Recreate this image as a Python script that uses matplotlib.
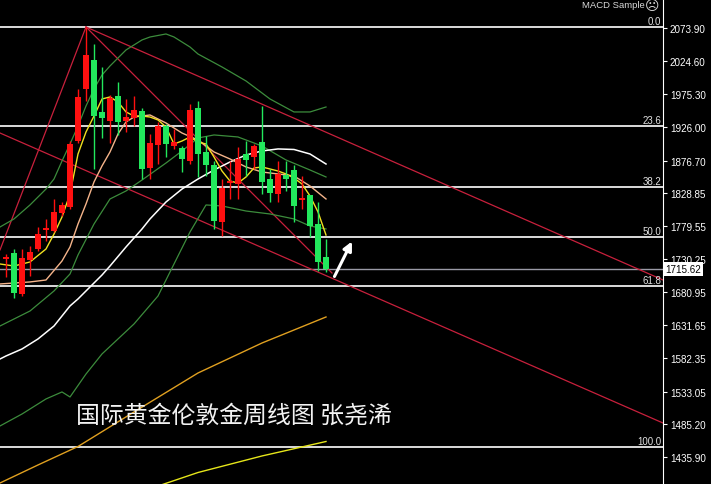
import matplotlib
matplotlib.use('Agg')
import matplotlib.pyplot as plt
import matplotlib.transforms as mtransforms

# weekly candles, oldest -> newest
opens = [1730.4, 1739.3, 1678.3, 1728.9, 1745.2, 1773.5, 1772.0, 1798.8, 1807.7, 1905.8,
         1983.2, 2026.3, 1949.0, 1935.6, 1972.8, 1935.6, 1940.0, 1950.5, 1865.7, 1899.9,
         1928.1, 1898.4, 1895.4, 1876.1, 1955.0, 1889.5, 1870.1, 1785.4, 1843.4, 1841.9,
         1886.5, 1882.0, 1904.4, 1849.3, 1827.0, 1855.3, 1862.7, 1818.1, 1825.5, 1782.4, 1733.3]
closes = [1733.3, 1679.8, 1731.8, 1740.8, 1767.5, 1776.4, 1800.3, 1810.7, 1901.4, 1971.3,
          2033.7, 1943.0, 1940.0, 1969.8, 1934.1, 1941.5, 1952.0, 1864.2, 1902.9, 1928.1,
          1901.4, 1904.4, 1879.1, 1952.0, 1886.5, 1870.1, 1786.9, 1835.9, 1846.3, 1879.1,
          1877.6, 1898.4, 1844.9, 1828.5, 1856.8, 1849.3, 1809.2, 1821.1, 1779.4, 1725.9, 1715.62]
highs = [1737.8, 1745.2, 1745.2, 1749.7, 1777.9, 1789.9, 1819.6, 1815.1, 1905.8, 1983.2,
         2075.4, 2050.1, 2015.9, 1974.3, 1993.6, 1968.3, 1972.8, 1955.0, 1916.3, 1934.1,
         1931.1, 1923.7, 1898.4, 1960.9, 1965.3, 1913.3, 1876.1, 1849.3, 1876.1, 1896.9,
         1905.8, 1901.4, 1957.9, 1864.2, 1876.1, 1876.1, 1870.1, 1853.8, 1825.5, 1815.1, 1760.1]
lows = [1703.6, 1672.4, 1675.3, 1705.1, 1742.3, 1757.1, 1770.5, 1794.3, 1804.7, 1903.0,
        1965.3, 1864.2, 1910.3, 1902.9, 1914.8, 1919.2, 1928.1, 1849.3, 1849.3, 1871.6,
        1882.0, 1894.0, 1859.7, 1871.6, 1852.3, 1853.8, 1775.0, 1764.6, 1819.6, 1819.6,
        1853.8, 1864.2, 1827.0, 1815.1, 1815.1, 1831.5, 1785.4, 1804.7, 1763.1, 1712.5, 1711.0]

# indicator lines (bar index, price)
ma5_x = [-0.75, 1, 3, 5, 6, 7, 8, 9, 10, 11, 12, 13, 14, 15, 16, 17, 18, 19, 20, 21, 22, 23, 24,
         25, 26, 27, 28, 29, 30, 31, 32, 33, 34, 35, 36, 37, 38, 39, 40]
ma5_y = [1722.9, 1719.9, 1725.9, 1745.2, 1767.5, 1792.8, 1827.0, 1886.5, 1919.2, 1943.0, 1968.3,
         1971.3, 1963.9, 1949.0, 1943.0, 1943.0, 1941.5, 1937.1, 1926.7, 1901.4, 1905.8, 1911.8,
         1904.4, 1901.4, 1882.0, 1861.2, 1846.3, 1843.4, 1852.3, 1865.7, 1867.2, 1864.2, 1861.2,
         1856.8, 1850.8, 1841.9, 1824.1, 1800.3, 1766.0]
ma10_x = [-0.75, 3, 5, 7, 8, 9, 10, 11, 12, 13, 14, 15, 16, 18, 20, 22, 24, 26, 28, 30, 32, 34,
          36, 38, 40]
ma10_y = [1693.2, 1696.2, 1699.1, 1727.4, 1748.2, 1782.4, 1812.2, 1844.9, 1868.7, 1889.5, 1916.3,
          1934.1, 1941.5, 1944.5, 1932.6, 1917.7, 1907.3, 1889.5, 1879.1, 1867.2, 1859.7, 1856.8,
          1853.8, 1838.9, 1819.6]
ma30_x = [-0.75, 0, 2, 4, 6, 8, 9, 10, 12, 13, 15, 17, 18, 20, 22, 24, 26, 28, 30, 32, 34, 36,
          38, 40]
ma30_y = [1581.6, 1586.1, 1596.5, 1611.4, 1630.7, 1660.5, 1670.9, 1682.8, 1706.5, 1719.9, 1748.2,
          1775.0, 1789.9, 1815.1, 1834.4, 1849.3, 1862.7, 1874.6, 1885.0, 1891.0, 1894.0, 1893.2,
          1886.5, 1871.6]
bb_up_x = [-0.75, 1, 3, 5, 6, 7, 8, 9, 10, 11, 12, 13, 15, 17, 18, 20, 21, 23, 24, 27, 30, 33,
           36, 38, 40]
bb_up_y = [1777.9, 1789.9, 1810.7, 1834.4, 1849.3, 1876.1, 1901.4, 1928.1, 1957.9, 1983.2, 2004.0,
           2017.4, 2041.2, 2056.1, 2060.5, 2065.0, 2060.5, 2045.6, 2035.2, 2015.9, 1995.1, 1968.3,
           1949.0, 1949.0, 1956.4]
bb_mid_x = [-0.75, 3, 6, 8, 9, 11, 13, 15, 17, 20, 22, 24, 26, 29, 32, 35, 38, 40]
bb_mid_y = [1630.7, 1653.0, 1682.8, 1708.0, 1736.3, 1782.4, 1819.6, 1831.5, 1847.8, 1873.1, 1891.0,
            1910.3, 1914.8, 1911.8, 1898.4, 1877.6, 1862.7, 1852.3]
bb_low_x = [-0.75, 2, 5, 7, 8, 10, 12, 16, 19, 21, 23, 25, 27, 30, 33, 36, 38, 40]
bb_low_y = [1482.0, 1499.8, 1522.2, 1532.6, 1525.1, 1559.3, 1589.1, 1633.7, 1675.3, 1722.9, 1770.5,
            1810.7, 1809.2, 1801.7, 1797.3, 1789.9, 1779.4, 1775.0]
ma60_x = [-0.75, 4, 9, 16, 24, 32, 40]
ma60_y = [1397.2, 1424.0, 1451.5, 1502.8, 1560.8, 1605.4, 1644.1]
ma120_x = [19, 24, 32, 40]
ma120_y = [1392.7, 1412.8, 1437.4, 1458.9]

# fibonacci retracement
fib_labels = ['0.0', '23.6', '38.2', '50.0', '61.8', '100.0']
fib_prices = [2074.9, 1927.4, 1837.4, 1763.1, 1689.5, 1450.3]

# hand drawn trend lines: (x0, y0, x1, y1)
trend_lines = [
    (10, 2075.4, 82.125, 1699.1),
    (-0.75, 1917.7, 82.125, 1486.4),
    (10, 2075.4, 40.75, 1709.5),
    (10, 2075.4, -0.75, 1743.8),
]

price_ticks = [2073.90, 2024.60, 1975.30, 1926.00, 1876.70, 1828.85, 1779.55, 1730.25,
               1680.95, 1631.65, 1582.35, 1533.05, 1485.20, 1435.90]
last_price = 1715.62

fig = plt.figure(figsize=(7.11, 4.85), dpi=100, facecolor='black')
ax = fig.add_axes([0, 0, 663 / 711, 1])
ax.set_facecolor('black')
ax.set_xlim(-0.75, 82.125)
ax.set_ylim(1395.7, 2117.0)
blend = mtransforms.blended_transform_factory(ax.transAxes, ax.transData)

for lvl, p in zip(fib_labels, fib_prices):
    ax.axhline(p, color='white', lw=1.2, zorder=1)
    ax.text(0.997, p + 1.5, lvl, transform=blend, ha='right', va='bottom',
            color='#e0e0e0', fontsize=7, family='Liberation Sans')
ax.axhline(last_price, color='#9a9aa6', lw=1, zorder=1)

for x0, y0, x1, y1 in trend_lines:
    ax.plot([x0, x1], [y0, y1], color='#c8203c', lw=0.9, zorder=2)

ax.plot(ma60_x, ma60_y, color='#e0a020', lw=1, zorder=3)
ax.plot(ma120_x, ma120_y, color='#e6e61a', lw=1, zorder=3)
ax.plot(bb_up_x, bb_up_y, color='#3c8c3c', lw=0.9, zorder=3)
ax.plot(bb_mid_x, bb_mid_y, color='#3c8c3c', lw=0.9, zorder=3)
ax.plot(bb_low_x, bb_low_y, color='#3c8c3c', lw=0.9, zorder=3)
ax.plot(ma30_x, ma30_y, color='white', lw=1.1, zorder=3)
ax.plot(ma10_x, ma10_y, color='#f5b48a', lw=1, zorder=4)
ax.plot(ma5_x, ma5_y, color='#f0e020', lw=1, zorder=4)

# candles: red = up, green = down
for i in range(len(opens)):
    o, c = opens[i], closes[i]
    col = '#ff1010' if c >= o else '#22e85c'
    ax.vlines(i, lows[i], highs[i], color=col, lw=1, zorder=5)
    h = max(abs(c - o), 1.6)
    ax.bar(i, h, bottom=min(o, c), width=0.78, color=col, zorder=6)

ax.annotate('', xy=(43.4, 1760.1), xytext=(40.9, 1700.6),
            arrowprops=dict(arrowstyle='-|>', color='white', lw=2.2, mutation_scale=13), zorder=7)

ax.text(76 / 663, 0.142, '国际黄金伦敦金周线图 张尧浠', transform=ax.transAxes,
        ha='left', va='center', color='#f2f2f2', fontsize=17.2,
        family=['Noto Sans CJK SC', 'DejaVu Sans'])

for s in ['top', 'left', 'bottom']:
    ax.spines[s].set_visible(False)
ax.spines['right'].set_color('white')
ax.set_xticks([])
ax.yaxis.tick_right()
ax.set_yticks(price_ticks)
ax.set_yticklabels(['%.2f' % v for v in price_ticks], family='Liberation Sans')
ax.tick_params(axis='y', colors='white', length=3, labelsize=7.1, pad=2)

ax.text(1.004, last_price, '%.2f' % last_price, transform=blend,
        ha='left', va='center', color='black', fontsize=7.1, family='Liberation Sans',
        bbox=dict(facecolor='white', edgecolor='none', pad=1.2), zorder=8, clip_on=False)

fig.text(645 / 711, 1 - 6 / 485, 'MACD Sample', ha='right', va='center', color='#d8d8d8',
         fontsize=6.8, family='Liberation Sans')
fig.text(652 / 711, 1 - 6 / 485, '☹', ha='center', va='center', color='#d8d8d8',
         fontsize=10, family='DejaVu Sans')

fig.savefig('out.png', dpi=100, facecolor='black')
